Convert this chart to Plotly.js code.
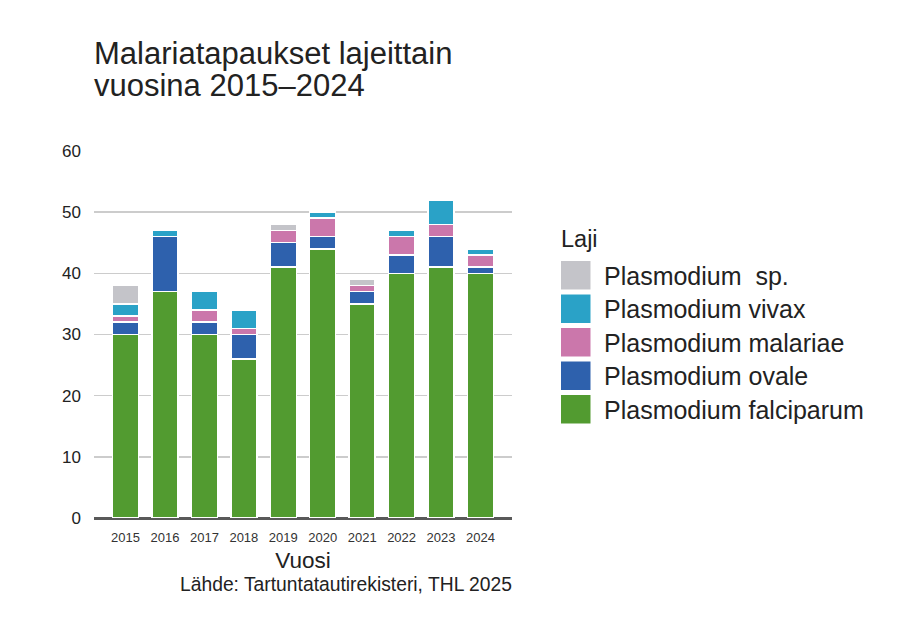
<!DOCTYPE html>
<html>
<head>
<meta charset="utf-8">
<script src="https://cdn.plot.ly/plotly-3.0.1.min.js"></script>
<style>
  html, body { margin: 0; padding: 0; background: #fff; }
  #plot { width: 920px; height: 629px; }
</style>
</head>
<body>
<div id="plot"></div>
<script>
var years = ['2015', '2016', '2017', '2018', '2019', '2020', '2021', '2022', '2023', '2024'];

var falciparum = [30, 37, 30, 26, 41, 44, 35, 40, 41, 40];
var ovale      = [2, 9, 2, 4, 4, 2, 2, 3, 5, 1];
var malariae   = [1, 0, 2, 1, 2, 3, 1, 3, 2, 2];
var vivax      = [2, 1, 3, 3, 0, 1, 0, 1, 4, 1];
var sp         = [3, 0, 0, 0, 1, 0, 1, 0, 0, 0];

// bottom to top
var seriesNames = ['Plasmodium falciparum', 'Plasmodium ovale', 'Plasmodium malariae', 'Plasmodium vivax', 'Plasmodium\u00a0 sp.'];
var seriesValues = [falciparum, ovale, malariae, vivax, sp];
var seriesColors = ['#529b30', '#2e61ad', '#cb77ab', '#2aa2c7', '#c4c4c9'];

var font = '"Liberation Sans", Arial, sans-serif';

var data = [];
for (var i = 0; i < seriesNames.length; i++) {
  data.push({
    type: 'bar',
    name: seriesNames[i],
    x: years,
    y: seriesValues[i],
    width: 0.66,
    marker: { color: seriesColors[i], line: { color: '#ffffff', width: 1.5 } },
    hoverinfo: 'x+y+name'
  });
}

// pixel helpers for paper coords (plot area 94..512 x 150..518)
function py(p) { return (518 - p) / 368; }
function px(p) { return (p - 94) / 418; }

var annotations = [
  { text: 'Malariatapaukset lajeittain', x: px(92), y: py(53), xanchor: 'left', yanchor: 'middle',
    font: { size: 31, color: '#222' } },
  { text: 'vuosina 2015\u20132024', x: px(92), y: py(86), xanchor: 'left', yanchor: 'middle',
    font: { size: 31, color: '#222' } },
  { text: 'L\u00e4hde: Tartuntatautirekisteri, THL 2025', x: px(514), y: py(584.5), xanchor: 'right', yanchor: 'middle',
    font: { size: 19.3, color: '#222' } },
  { text: 'Laji', x: px(559), y: py(238.5), xanchor: 'left', yanchor: 'middle',
    font: { size: 23.5, color: '#222' } }
];
var shapes = [];

// legend drawn top-down in reverse stacking order
var legendOrder = [4, 3, 2, 1, 0];
for (var k = 0; k < legendOrder.length; k++) {
  var s = legendOrder[k];
  var rowTop = 261 + k * 33.5;
  shapes.push({
    type: 'rect', xref: 'paper', yref: 'paper',
    x0: px(561), x1: px(590.5), y0: py(rowTop), y1: py(rowTop + 28.5),
    fillcolor: seriesColors[s], line: { width: 0 }
  });
  annotations.push({
    text: seriesNames[s], x: px(602), y: py(rowTop + 14.5), xanchor: 'left', yanchor: 'middle',
    font: { size: 25, color: '#222' }
  });
}
annotations.forEach(function (a) { a.xref = 'paper'; a.yref = 'paper'; a.showarrow = false; });

var layout = {
  width: 920,
  height: 629,
  margin: { l: 94, r: 408, t: 150, b: 111 },
  paper_bgcolor: '#ffffff',
  plot_bgcolor: '#ffffff',
  font: { family: font, color: '#222' },
  barmode: 'stack',
  showlegend: false,
  xaxis: {
    type: 'category',
    range: [-0.8, 9.8],
    showgrid: false,
    showline: false,
    ticks: '',
    ticklabelstandoff: 10,
    tickfont: { size: 13, color: '#333' },
    title: { text: 'Vuosi', font: { size: 22.5, color: '#222' }, standoff: 8 },
    automargin: false
  },
  yaxis: {
    range: [0, 60.15],
    tickvals: [0, 10, 20, 30, 40, 50, 60],
    showgrid: true,
    gridcolor: '#cccccc',
    gridwidth: 1.5,
    zeroline: true,
    zerolinecolor: '#595959',
    zerolinewidth: 3,
    showline: false,
    ticks: '',
    ticklabelstandoff: 12,
    tickfont: { size: 17, color: '#222' },
    automargin: false
  },
  annotations: annotations,
  shapes: shapes
};

Plotly.newPlot('plot', data, layout, { displayModeBar: false, staticPlot: true });
</script>
</body>
</html>
